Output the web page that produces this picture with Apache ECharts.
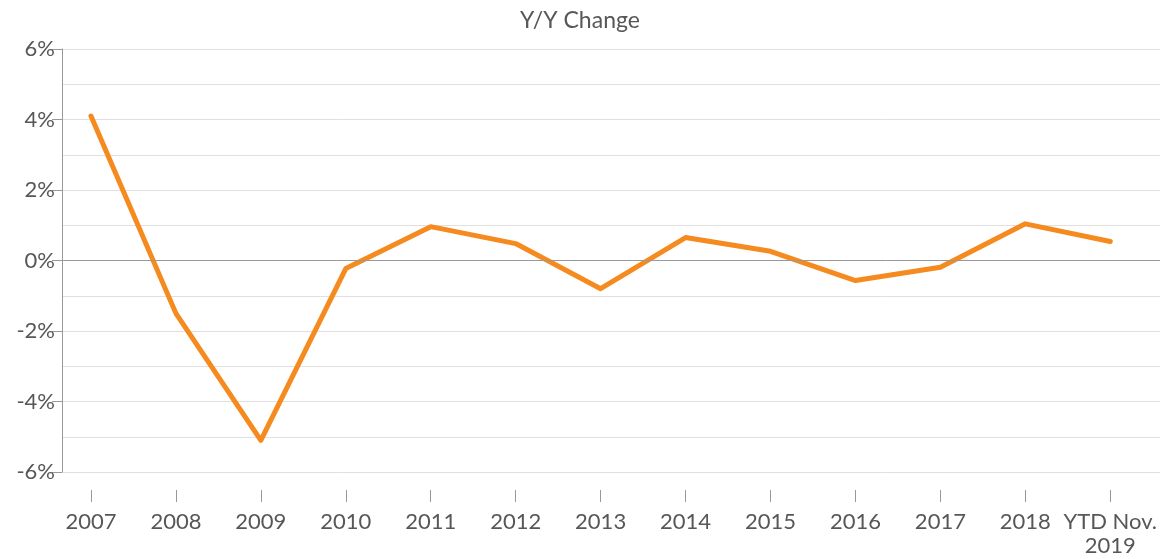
<!DOCTYPE html>
<html>
<head>
<meta charset="utf-8">
<script src="https://cdn.jsdelivr.net/npm/echarts@6/dist/echarts.min.js"></script>
<style>
  html, body { margin: 0; padding: 0; background: #fff; }
  #chart { width: 1160px; height: 559px; }
</style>
</head>
<body>
<div id="chart"></div>
<script>
// categories and values
var categories = ['2007', '2008', '2009', '2010', '2011', '2012', '2013', '2014', '2015', '2016', '2017', '2018', 'YTD Nov.\n2019'];
var yoyChange = [4.1, -1.5, -5.1, -0.23, 0.96, 0.48, -0.8, 0.65, 0.26, -0.57, -0.19, 1.04, 0.54];
var yTicks = [-6, -4, -2, 0, 2, 4, 6];

var textColor = '#575757';
var fontFamily = 'Lato, "Open Sans", sans-serif';

var chart = echarts.init(document.getElementById('chart'));

var option = {
    animation: false,
    textStyle: { fontFamily: fontFamily },
    title: {
        text: 'Y/Y Change',
        left: 'center',
        top: 4,
        textStyle: { color: textColor, fontSize: 23, fontWeight: 'normal', fontFamily: fontFamily }
    },
    grid: [
        // grid for the y axis + gridlines
        { left: 62, right: 0, top: 49, bottom: 87 },
        // grid for the x categories (bands a bit wider than the plot)
        { left: 48.5, right: 6.5, top: 49, bottom: 87 }
    ],
    xAxis: [
        { gridIndex: 0, type: 'value', show: false, min: 0, max: 1 },
        {
            gridIndex: 1,
            type: 'category',
            data: categories,
            boundaryGap: true,
            offset: 18,
            axisLine: { show: false, onZero: false },
            axisTick: { show: true, alignWithLabel: true, length: 12, lineStyle: { color: '#999' } },
            axisLabel: {
                color: textColor,
                fontSize: 22,
                margin: 20,
                lineHeight: 24,
                interval: 0
            }
        }
    ],
    yAxis: [
        {
            gridIndex: 0,
            type: 'value',
            min: yTicks[0],
            max: yTicks[yTicks.length - 1],
            interval: 2,
            axisLine: { show: true, lineStyle: { color: '#999' } },
            axisTick: { show: true, length: 10, lineStyle: { color: '#999' } },
            axisLabel: {
                color: textColor,
                fontSize: 22,
                margin: 7,
                formatter: function (v) { return v + '%'; }
            },
            splitLine: { show: true, lineStyle: { color: '#e0e0e0', width: 1 } },
            minorTick: { show: false, splitNumber: 2 },
            minorSplitLine: { show: true, lineStyle: { color: '#e0e0e0', width: 1 } }
        },
        {
            gridIndex: 1,
            type: 'value',
            min: yTicks[0],
            max: yTicks[yTicks.length - 1],
            show: false,
            splitLine: { show: false }
        }
    ],
    series: [
        {
            // zero line across the plot
            type: 'line',
            xAxisIndex: 0,
            yAxisIndex: 0,
            data: [],
            silent: true,
            markLine: {
                silent: true,
                symbol: 'none',
                label: { show: false },
                lineStyle: { color: '#999', width: 1, type: 'solid' },
                data: [{ yAxis: 0 }]
            }
        },
        {
            name: 'Y/Y Change',
            type: 'line',
            xAxisIndex: 1,
            yAxisIndex: 1,
            data: yoyChange,
            showSymbol: false,
            lineStyle: { color: '#F58A1F', width: 5, cap: 'round', join: 'round' },
            itemStyle: { color: '#F58A1F' }
        }
    ]
};

chart.setOption(option);
</script>
</body>
</html>
